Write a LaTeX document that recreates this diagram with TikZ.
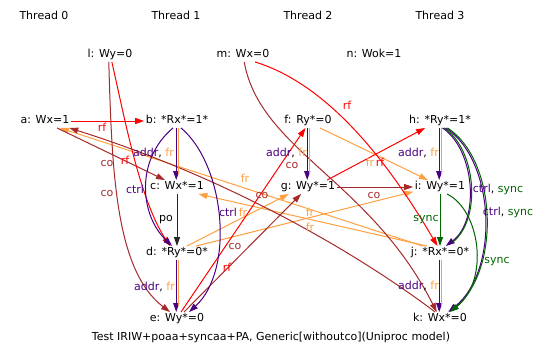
\documentclass[tikz,border=0pt]{standalone}
\usepackage{fontspec}
\setmainfont{DejaVu Sans}
\usetikzlibrary{arrows.meta}
\definecolor{cred}{RGB}{255,0,0}
\definecolor{cbrown}{RGB}{165,42,42}
\definecolor{corg}{RGB}{255,160,64}
\definecolor{cpur}{RGB}{75,0,130}
\definecolor{cgrn}{RGB}{0,100,0}
\begin{document}
\begin{tikzpicture}[x=1pt,y=-1pt,
  ev/.style={inner sep=1.5pt, text height=8pt, text depth=2.5pt, font=\fontsize{11}{12}\selectfont},
  lab/.style={inner sep=0pt, font=\fontsize{11}{12}\selectfont},
  edge/.style={line width=1pt},
  arr/.style={-{Triangle[length=9pt,width=6pt]}},
  rfe/.style={edge,arr,cred},
  coe/.style={edge,arr,cbrown},
  fre/.style={edge,arr,corg},
  ctrle/.style={edge,arr,cpur},
  synce/.style={edge,arr,cgrn},
  poe/.style={edge,arr,black!85},
  purarr/.style={edge,arr,cpur},
  orgline/.style={edge,corg,shorten >=6pt},
  grnline/.style={edge,cgrn,shorten >=6pt}
]
\useasboundingbox (0,0) rectangle (544,361);

% thread titles
\node[ev] (T0) at (44,17) {Thread 0};
\node[ev] (T1) at (176,17) {Thread 1};
\node[ev] (T2) at (308,17) {Thread 2};
\node[ev] (T3) at (440,17) {Thread 3};

% events
\node[ev] (l) at (110,55) {l: Wy=0};
\node[ev] (m) at (243,55) {m: Wx=0};
\node[ev] (n) at (374,55) {n: Wok=1};
\node[ev] (a) at (45,121) {a: Wx=1};
\node[ev] (b) at (177,121) {b: *Rx*=1*};
\node[ev] (c) at (177,187) {c: Wx*=1};
\node[ev] (d) at (177,253) {d: *Ry*=0*};
\node[ev] (e) at (177,319) {e: Wy*=0};
\node[ev] (f) at (308,121) {f: Ry*=0};
\node[ev] (g) at (308,187) {g: Wy*=1};
\node[ev] (h) at (440,121) {h: *Ry*=1*};
\node[ev] (i) at (440,187) {i: Wy*=1};
\node[ev] (j) at (440,253) {j: *Rx*=0*};
\node[ev] (k) at (440,319) {k: Wx*=0};

\node[ev] (cap) at (271,338) {Test IRIW+poaa+syncaa+PA, Generic[withoutco](Uniproc model)};

% fr edges
\draw[fre] (f.-30) -- (i.150);
\draw[fre] (d.35) -- (g.-160);
\draw[fre] (d.20) -- (i.-170);
\draw[fre] (j.158) -- (a.-25);
\draw[fre] (j.152) -- (c.-18);

% co edges
\draw[coe] (l.-100) .. controls (112,170) and (115,270) .. (e.135);
\draw[coe] (a.-30) -- (c.150);
\draw[coe] (k.125) .. controls (380,270) and (250,185) .. (a.-16);
\draw[coe] (m.-80) .. controls (260,150) and (370,180) .. (k.115);
\draw[coe] (e.45) -- (g.-135);
\draw[coe] (g.east) -- (i.west);

% rf edges
\draw[rfe] (a.east) -- (b.west);
\draw[rfe] (l.-75) .. controls (125,120) and (140,200) .. (d.135);
\draw[rfe] (e.60) -- (f.-110);
\draw[rfe] (g.20) -- (h.-155);
\draw[rfe] (m.-30) .. controls (330,85) and (390,165) .. (j.110);

% po
\draw[poe] (c.south) -- (d.north);

% ctrl
\draw[ctrle] (b.-120) .. controls (135,160) and (140,215) .. (d.125);
\draw[ctrle] (b.-60) .. controls (225,165) and (235,270) .. (e.30);

% addr, fr double edges
\draw[purarr] ([xshift=-0.8pt]b.south) -- ([xshift=-0.8pt]c.north);
\draw[orgline] ([xshift=1.5pt]b.south) -- ([xshift=1.5pt]c.north);
\draw[purarr] ([xshift=-0.8pt]d.south) -- ([xshift=-0.8pt]e.north);
\draw[orgline] ([xshift=1.5pt]d.south) -- ([xshift=1.5pt]e.north);
\draw[purarr] ([xshift=-0.8pt]f.south) -- ([xshift=-0.8pt]g.north);
\draw[orgline] ([xshift=1.5pt]f.south) -- ([xshift=1.5pt]g.north);
\draw[purarr] ([xshift=-0.8pt]h.south) -- ([xshift=-0.8pt]i.north);
\draw[orgline] ([xshift=1.5pt]h.south) -- ([xshift=1.5pt]i.north);
\draw[purarr] ([xshift=-0.8pt]j.south) -- ([xshift=-0.8pt]k.north);
\draw[orgline] ([xshift=1.5pt]j.south) -- ([xshift=1.5pt]k.north);

% ctrl, sync
\draw[ctrle] (h.-70) .. controls (475,150) and (480,220) .. (j.50);
\draw[grnline, transform canvas={xshift=1.7pt}] (h.-70) .. controls (475,150) and (480,220) .. (j.50);
\draw[ctrle] (h.-50) .. controls (495,160) and (500,270) .. (k.40);
\draw[grnline, transform canvas={xshift=1.7pt}] (h.-50) .. controls (495,160) and (500,270) .. (k.40);

% sync
\draw[synce] (i.south) -- (j.north);
\draw[synce] (i.-45) .. controls (480,210) and (490,280) .. (k.35);

% labels
\node[lab,cred] (lab1) at (102,127) {rf};
\node[lab,cred] (lab2) at (125,160) {rf};
\node[lab,cbrown] (lab3) at (107,163) {co};
\node[lab,cbrown] (lab4) at (107,193) {co};
\node[lab,anchor=east] (lab5) at (174,153) {\textcolor{cpur}{addr}, \textcolor{corg}{fr}};
\node[lab,cpur] (lab6) at (135,189) {ctrl};
\node[lab] (lab7) at (166,220) {po};
\node[lab,cpur] (lab8) at (228,212) {ctrl};
\node[lab,corg] (lab9) at (243,212) {fr};
\node[lab,corg] (lab10) at (245,178) {fr};
\node[lab,cbrown] (lab11) at (262,195) {co};
\node[lab,cbrown] (lab12) at (235,246) {co};
\node[lab,cred] (lab13) at (227,267) {rf};
\node[lab,anchor=east] (lab14) at (175,287) {\textcolor{cpur}{addr}, \textcolor{corg}{fr}};
\node[lab,anchor=east] (lab15) at (307,153) {\textcolor{cpur}{addr}, \textcolor{corg}{fr}};
\node[lab,cbrown] (lab16) at (292,165) {co};
\node[lab,cred] (lab17) at (347,105) {rf};
\node[lab,corg] (lab18) at (370,162) {fr};
\node[lab,cred] (lab19) at (380,162) {rf};
\node[lab,anchor=east] (lab20) at (439,153) {\textcolor{cpur}{addr}, \textcolor{corg}{fr}};
\node[lab,cbrown] (lab21) at (374,195) {co};
\node[lab,corg] (lab22) at (310,212) {fr};
\node[lab,corg] (lab23) at (310,227) {fr};
\node[lab,cgrn] (lab24) at (426,220) {sync};
\node[lab] (lab25) at (498,189) {\textcolor{cpur}{ctrl}, \textcolor{cgrn}{sync}};
\node[lab] (lab26) at (508,212) {\textcolor{cpur}{ctrl}, \textcolor{cgrn}{sync}};
\node[lab,cgrn] (lab27) at (497,262) {sync};
\node[lab,anchor=east] (lab28) at (439,286) {\textcolor{cpur}{addr}, \textcolor{corg}{fr}};
\end{tikzpicture}
\end{document}
